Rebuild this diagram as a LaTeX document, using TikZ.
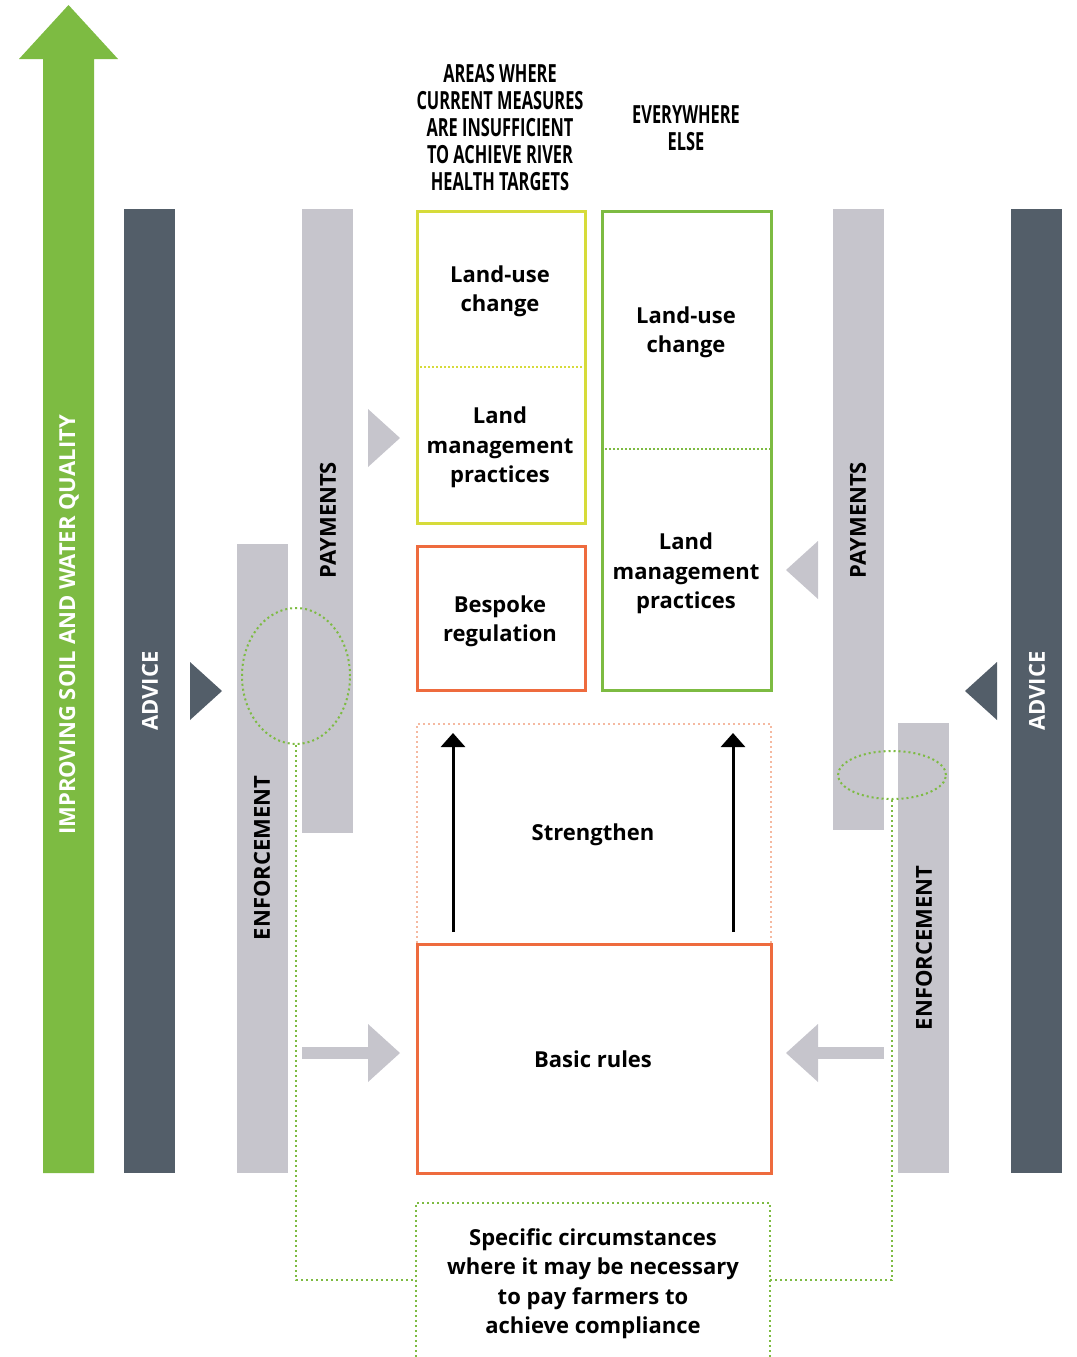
\documentclass[tikz,border=0pt]{standalone}
\usepackage{fontspec}
\setmainfont{Open Sans}
\newfontfamily\headfont[FakeStretch=0.655]{Open Sans}
\usepackage{tikz}
\usetikzlibrary{calc}
\usetikzlibrary{shapes}
\usetikzlibrary{arrows.meta}
\definecolor{leafgreen}{RGB}{125,187,66}
\definecolor{slate}{RGB}{83,94,105}
\definecolor{mist}{RGB}{198,197,204}
\definecolor{rust}{RGB}{238,107,62}
\definecolor{lime}{RGB}{214,219,58}
\definecolor{peach}{RGB}{245,185,160}
\newcommand{\sidestrip}[5]{ \fill[#5] ( #1 , #2 ) rectangle ( #3 , #4 );}
\newcommand{\striplabel}[5]{\node[rotate=90, text=#4, font=\bfseries\fontsize{22}{26}\selectfont, inner sep=0pt] (#5) at ( #1 , #2 ) {#3};}
\newcommand{\pointer}[4]{ \fill[#4] ( #1 , #2 ) -- ++( {-32*#3} , -29 ) -- ++( 0 , 58 ) -- cycle;}
\tikzset{
  dotline/.style={leafgreen, line width=2pt, dash pattern=on 2pt off 3pt},
  boxtext/.style={align=center, yshift=-2.5pt, font=\bfseries\fontsize{22}{29.5}\selectfont},
  headtext/.style={align=center, font=\headfont\bfseries\fontsize{25}{27}\selectfont},
  panel/.style={line width=2.5pt, anchor=north west, inner sep=0pt},
}

\begin{document}
\begin{tikzpicture}[x=1pt,y=-1pt]
            \useasboundingbox (0,0) rectangle (1076,1357);

            % big arrow
            \fill[leafgreen] (43,1173) -- (43,59) -- (19,59) -- (68.5,5) -- (118,59) -- (94,59) -- (94,1173) -- cycle;
            \striplabel{69}{625}{IMPROVING SOIL AND WATER QUALITY}{white}{quality}

            % left bars
            \sidestrip{124}{209}{175}{1173}{slate}
            \sidestrip{237}{544}{288}{1173}{mist}
            \sidestrip{302}{209}{353}{833}{mist}
            \striplabel{150}{691}{ADVICE}{white}{adviceL}
            \striplabel{262}{858}{ENFORCEMENT}{black}{enfL}
            \striplabel{328}{520}{PAYMENTS}{black}{payL}
            \pointer{222}{691}{1}{slate}
            \pointer{400}{438}{1}{mist}
            \pointer{400}{1053}{1}{mist}
            \fill[mist] (302,1047) rectangle (369,1059);

            % right bars
            \sidestrip{1011}{209}{1062}{1173}{slate}
            \sidestrip{898}{723}{949}{1173}{mist}
            \sidestrip{833}{209}{884}{830}{mist}
            \striplabel{1037}{691}{ADVICE}{white}{adviceR}
            \striplabel{924}{948}{ENFORCEMENT}{black}{enfR}
            \striplabel{858}{520}{PAYMENTS}{black}{payR}
            \pointer{965}{691}{-1}{slate}
            \pointer{786}{570}{-1}{mist}
            \pointer{786}{1053}{-1}{mist}
            \fill[mist] (817,1047) rectangle (884,1059);

            % headings
            \node[headtext] (areas) at (500,128) {AREAS WHERE\\CURRENT MEASURES\\ARE INSUFFICIENT\\TO ACHIEVE RIVER\\HEALTH TARGETS};
            \node[headtext] (else) at (686,128) {EVERYWHERE\\ELSE};

            % boxes
            \node[panel, draw=lime, minimum width=168pt, minimum height=312pt] (areabox) at (416,210) {};
            \draw[lime, line width=1.5pt, dash pattern=on 2pt off 2pt] (areabox.west |- 0,367) -- (areabox.east |- 0,367);
            \node[panel, draw=rust, minimum width=168pt, minimum height=144pt] (bespoke) at (416,545) {};
            \node[panel, draw=leafgreen, minimum width=169pt, minimum height=479pt] (elsebox) at (601,210) {};
            \draw[leafgreen, line width=1.5pt, dash pattern=on 2pt off 2pt] (elsebox.west |- 0,449) -- (elsebox.east |- 0,449);
            \node[panel, draw=peach, line width=1.5pt, dash pattern=on 2pt off 3pt, minimum width=354pt, minimum height=220pt] (strbox) at (416,723) {};
            \node[panel, draw=rust, minimum width=354pt, minimum height=229pt] (basic) at (416,943) {};
            \draw[dotline] (416,1357) -- (416,1203) -- (770,1203) -- (770,1357);

            % box texts
            \node[boxtext] (luA) at (500,289) {Land-use\\change};
            \node[boxtext] (lmA) at (500,445) {Land\\management\\practices};
            \node[boxtext] (bsp) at (500,619) {Bespoke\\regulation};
            \node[boxtext] (luB) at (686,330) {Land-use\\change};
            \node[boxtext] (lmB) at (686,571) {Land\\management\\practices};
            \node[boxtext] (strength) at (593,832) {Strengthen};
            \node[boxtext] (rules) at (593,1057) {Basic rules};
            \node[boxtext] (spec) at (593,1281) {Specific circumstances\\where it may be necessary\\to pay farmers to\\achieve compliance};

            % strengthen arrows
            \coordinate (upL0) at (453,932);
            \coordinate (upL1) at (453,733);
            \coordinate (upR0) at (733,932);
            \coordinate (upR1) at (733,733);
            \draw[line width=3pt, -{Triangle[width=24pt,length=14pt]}] (upL0) -- (upL1);
            \draw[line width=3pt, -{Triangle[width=24pt,length=14pt]}] (upR0) -- (upR1);

            % overlaps
            \node[ellipse, dotline, draw, minimum width=108pt, minimum height=136pt, inner sep=0pt] (ovL) at (296,676) {};
            \node[ellipse, dotline, draw, minimum width=108pt, minimum height=48pt, inner sep=0pt] (ovR) at (892,775) {};
            \coordinate (specW) at (416,1280);
            \coordinate (specE) at (770,1280);
            \draw[dotline] (ovL.south) |- (specW);
            \draw[dotline] (ovR.south) |- (specE);

        \end{tikzpicture}
\end{document}
